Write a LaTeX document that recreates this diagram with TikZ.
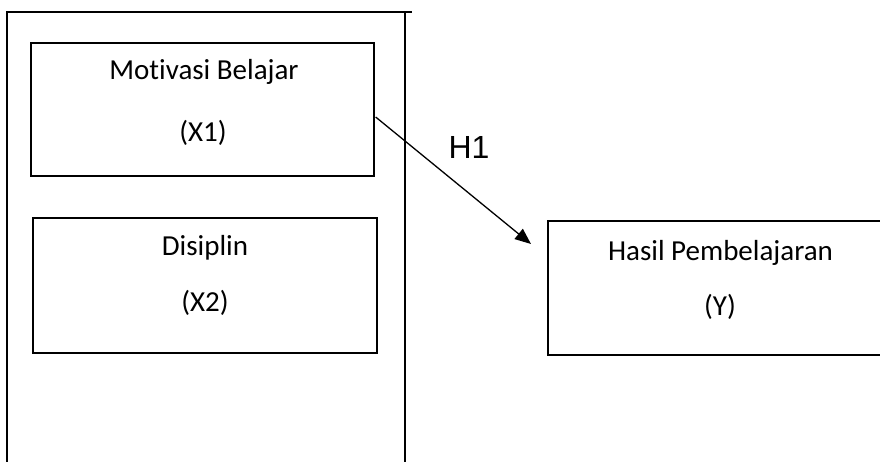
\documentclass[tikz,border=0pt]{standalone}
\usepackage{fontspec}
\setmainfont{Carlito}[Ligatures={NoCommon}]
\newfontfamily\arialfont{Liberation Sans}
\usetikzlibrary{arrows.meta,calc}
\begin{document}
\begin{tikzpicture}[x=1pt,y=-1pt,
  frame/.style={line width=1.5pt},
  varbox/.style={draw,line width=1.3pt,rectangle,inner sep=0pt},
  lbl/.style={font=\fontsize{29}{34}\selectfont,inner sep=0pt},
  link/.style={line width=1.3pt,-{Triangle[length=16pt,width=13pt]}}]
\useasboundingbox (0,0) rectangle (880,461);
\clip (0,0) rectangle (880,461);
\fill[white] (0,0) rectangle (880,461);

% outer frame grouping the independent variables
\coordinate (ftl) at (7,12);
\coordinate (ftr) at (412,12);
\coordinate (fbl) at (7,470);
\coordinate (frt) at (405,12);
\coordinate (frb) at (405,470);
\draw[frame] (fbl) -- (ftl) -- (ftr);
\draw[frame] (frt) -- (frb);

% variable boxes
\node[varbox,minimum width=343pt,minimum height=133pt] (x1) at (202.5,109.5) {};
\node[varbox,minimum width=344pt,minimum height=135pt] (x2) at (205,285.5) {};
\node[varbox,minimum width=350pt,minimum height=134pt] (y) at (723,288) {};

% box labels
\node[lbl] (x1a) at (204,72) {Motivasi Belajar};
\node[lbl] (x1b) at (203,133) {(X1)};
\node[lbl] (x2a) at (205,248) {Disiplin};
\node[lbl] (x2b) at (205,303) {(X2)};
\node[lbl] (ya) at (720.5,253) {Hasil Pembelajaran};
\node[lbl] (yb) at (720,307) {(Y)};

% hypothesis arrow
\coordinate (h1s) at ($(x1.east)+(1,7.5)$);
\coordinate (h1e) at (531,244);
\draw[link] (h1s) -- (h1e);
\node[font=\arialfont\fontsize{32}{38}\selectfont,inner sep=0pt] (h1) at (469,147) {H1};
\end{tikzpicture}
\end{document}
